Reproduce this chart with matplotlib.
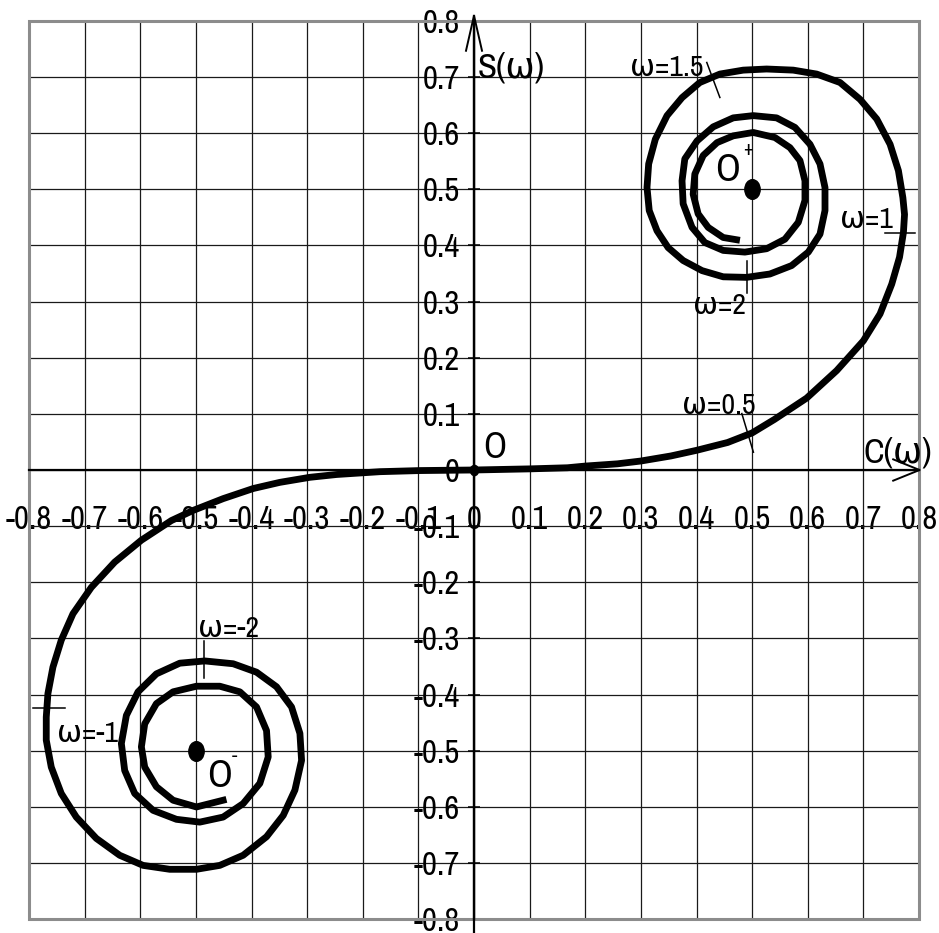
import numpy as np
import matplotlib
matplotlib.use("Agg")
import matplotlib.pyplot as plt
from matplotlib.patches import Rectangle
from matplotlib.markers import MarkerStyle
from matplotlib.transforms import Affine2D

plt.rcParams['font.family'] = ['Archivo Narrow', 'DejaVu Sans']
plt.rcParams['axes.unicode_minus'] = False

# spiral, from the origin outwards
upper_c = [0.0, 0.1, 0.168, 0.2, 0.258, 0.3, 0.354, 0.4, 0.456, 0.5, 0.540, 0.598, 0.652, 0.700,
           0.730, 0.751, 0.765, 0.772, 0.774,
           0.771, 0.763, 0.748, 0.724, 0.694, 0.658, 0.616, 0.574, 0.526, 0.484, 0.442, 0.406,
           0.374, 0.347, 0.326, 0.314, 0.311, 0.315, 0.329, 0.349, 0.376, 0.410, 0.448, 0.490,
           0.532, 0.571, 0.601, 0.622, 0.631, 0.631, 0.622, 0.604, 0.577, 0.544, 0.502, 0.466,
           0.430, 0.401, 0.379, 0.374, 0.376, 0.392, 0.415, 0.448, 0.487, 0.526, 0.559, 0.583,
           0.595, 0.595, 0.586, 0.568, 0.541, 0.502, 0.466, 0.437, 0.412, 0.397, 0.394, 0.403,
           0.421, 0.448, 0.472]
upper_s = [0.0, 0.002, 0.004, 0.007, 0.011, 0.016, 0.025, 0.035, 0.049, 0.066, 0.090, 0.128, 0.177, 0.230,
           0.278, 0.331, 0.379, 0.423, 0.455,
           0.485, 0.533, 0.580, 0.625, 0.660, 0.690, 0.705, 0.712, 0.714, 0.712, 0.705, 0.690,
           0.663, 0.631, 0.589, 0.545, 0.503, 0.462, 0.426, 0.396, 0.373, 0.355, 0.344, 0.343,
           0.349, 0.364, 0.388, 0.420, 0.462, 0.503, 0.545, 0.580, 0.610, 0.627, 0.631, 0.627,
           0.611, 0.586, 0.554, 0.515, 0.474, 0.432, 0.405, 0.391, 0.388, 0.394, 0.411, 0.441,
           0.480, 0.515, 0.551, 0.574, 0.592, 0.601, 0.595, 0.583, 0.560, 0.527, 0.491, 0.456,
           0.432, 0.414, 0.410]

lower_c = [0.0, -0.097, -0.169, -0.247, -0.295, -0.349, -0.397, -0.451, -0.505, -0.544, -0.598,
           -0.646, -0.688, -0.721, -0.742, -0.757, -0.766, -0.769, -0.769, -0.760, -0.742, -0.715,
           -0.679, -0.637, -0.595,
           -0.547, -0.499, -0.457, -0.415, -0.373, -0.343, -0.322, -0.310, -0.313, -0.328, -0.355,
           -0.391, -0.433, -0.484, -0.529, -0.571, -0.604, -0.625, -0.634, -0.628, -0.610, -0.577,
           -0.535, -0.493, -0.451, -0.415, -0.385, -0.370, -0.373, -0.391, -0.421, -0.457, -0.499,
           -0.541, -0.571, -0.592, -0.598, -0.592, -0.571, -0.541, -0.499, -0.451]
lower_s = [0.0, -0.001, -0.003, -0.008, -0.013, -0.022, -0.033, -0.051, -0.072, -0.090, -0.125,
           -0.164, -0.209, -0.256, -0.303, -0.351, -0.398, -0.440, -0.481, -0.529, -0.576, -0.618,
           -0.656, -0.686, -0.704,
           -0.711, -0.711, -0.704, -0.686, -0.653, -0.615, -0.570, -0.517, -0.469, -0.422, -0.386,
           -0.360, -0.345, -0.340, -0.344, -0.363, -0.395, -0.437, -0.487, -0.535, -0.576, -0.606,
           -0.622, -0.627, -0.618, -0.594, -0.558, -0.511, -0.464, -0.422, -0.395, -0.385, -0.385,
           -0.395, -0.416, -0.452, -0.493, -0.529, -0.564, -0.588, -0.600, -0.588]

# centre points O+, O-
centre_c = [0.5, -0.5]
centre_s = [0.5, -0.5]

# little marks across the curve at omega values: (c0, s0, c1, s1)
omega_marks = [
    (0.4185, 0.7256, 0.442, 0.6633),    # 1.5
    (0.4815, 0.1005, 0.5023, 0.0317),   # 0.5
    (0.491, 0.3728, 0.491, 0.3158),     # 2
    (0.7392, 0.4216, 0.7932, 0.4216),   # 1
    (-0.793, -0.4244, -0.7356, -0.4244),  # -1
    (-0.4856, -0.3052, -0.4856, -0.3711),  # -2
]
omega_labels = [
    ('ω=1.5', 0.281, 0.702),
    ('ω=0.5', 0.374, 0.1005),
    ('ω=2', 0.394, 0.278),
    ('ω=1', 0.658, 0.431),
    ('ω=-1', -0.75, -0.485),
    ('ω=-2', -0.496, -0.298),
]

ticks = np.round(np.arange(-0.8, 0.81, 0.1), 1)
tick_labels = ['0' if t == 0 else '%.1f' % t for t in ticks]

fig = plt.figure(figsize=(9.39, 9.33), dpi=100)
ax = fig.add_axes([0.0309, 0.0147, 0.9478, 0.9631])
ax.set_xlim(-0.8, 0.8)
ax.set_ylim(-0.8, 0.8)
ax.set_axisbelow(True)

ax.set_xticks(ticks)
ax.set_yticks(ticks)
ax.set_xticklabels(tick_labels)
ax.set_yticklabels(tick_labels)
ax.grid(True, color='#1a1a1a', lw=0.9)

ax.spines['left'].set_position(('data', 0))
ax.spines['bottom'].set_position(('data', 0))
ax.spines['top'].set_visible(False)
ax.spines['right'].set_visible(False)
for side in ['left', 'bottom']:
    ax.spines[side].set_linewidth(1.6)
    ax.spines[side].set_color('black')
    ax.spines[side].set_zorder(2.6)

ax.tick_params(axis='x', length=0, pad=25, labelsize=23.5)
ax.tick_params(axis='y', direction='inout', length=8.6, width=1.1, pad=6, labelsize=23.5)

ax.add_patch(Rectangle((0, 0), 1, 1, transform=ax.transAxes, fill=False,
                       edgecolor='#8c8c8c', lw=2.2, clip_on=False, zorder=2.4))

# axis extensions and open arrow heads
ax.plot([0, 0], [-0.825, 0.809], color='black', lw=1.6, clip_on=False, zorder=2.6)
ax.plot([-0.0144, 0, 0.0144], [0.7465, 0.809, 0.7465], color='black', lw=1.4,
        clip_on=False, zorder=2.6)
ax.plot([0.7536, 0.801, 0.7536], [0.019, 0, -0.019], color='black', lw=1.4,
        clip_on=False, zorder=2.6)

ax.plot(upper_c, upper_s, color='black', lw=4.9, solid_joinstyle='round', zorder=3)
ax.plot(lower_c, lower_s, color='black', lw=4.9, solid_joinstyle='round', zorder=3)

for c0, s0, c1, s1 in omega_marks:
    ax.plot([c0, c1], [s0, s1], color='black', lw=1.1, zorder=3)

oval = MarkerStyle('o', transform=Affine2D().scale(0.78, 1.0))
ax.scatter(centre_c, centre_s, s=200, marker=oval, color='black', zorder=4)
ax.scatter([0], [0], s=55, marker=oval, color='black', zorder=4, clip_on=False)

for txt, c, s in omega_labels:
    ax.text(c, s, txt, fontsize=21.5, ha='left', va='baseline', zorder=5)

ax.text(0.007, 0.698, 'S(ω)', fontsize=25, ha='left', va='baseline')
ax.text(0.70, 0.013, 'C(ω)', fontsize=25, ha='left', va='baseline')
ax.text(0.016, 0.0205, 'O', fontsize=26, ha='left', va='baseline')
ax.text(0.433, 0.515, 'O', fontsize=28, ha='left', va='baseline')
ax.text(0.493, 0.570, '+', fontsize=14, ha='center', va='center')
ax.text(-0.480, -0.565, 'O', fontsize=28, ha='left', va='baseline')
ax.text(-0.43, -0.511, '-', fontsize=14, ha='center', va='center')

fig.savefig('out.png', dpi=100)
